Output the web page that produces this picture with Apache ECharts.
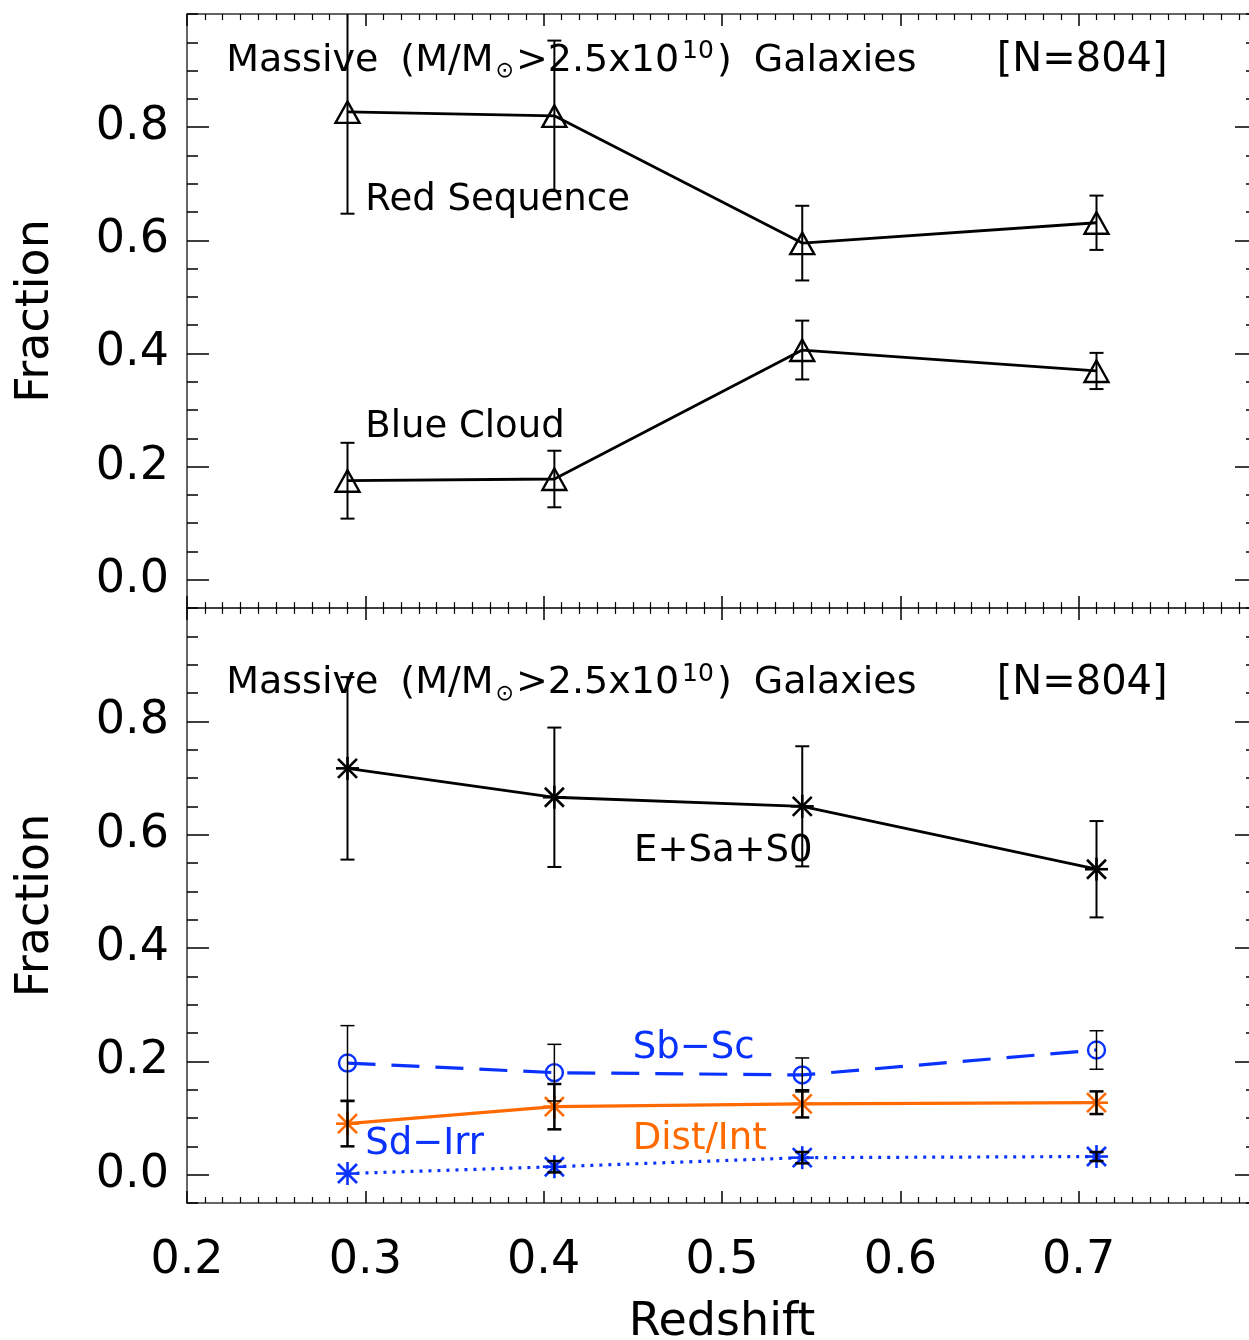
<!DOCTYPE html>
<html><head><meta charset="utf-8">
<script src="https://cdn.jsdelivr.net/npm/echarts@6/dist/echarts.min.js"></script>
<style>html,body{margin:0;padding:0;background:#fff}#c{width:1249px;height:1340px}</style>
</head><body><div id="c"></div>
<script>
// ---------- data ----------
const redshift = [0.290, 0.406, 0.545, 0.710];
const redSeq = [0.827, 0.820, 0.595, 0.631];
const redSeqErr = [0.180, 0.133, 0.066, 0.048];
const blueCloud = [0.175, 0.178, 0.406, 0.369];
const blueCloudErr = [0.067, 0.050, 0.052, 0.032];
const eSaS0 = [0.717, 0.666, 0.650, 0.539];
const eSaS0Err = [0.161, 0.123, 0.106, 0.085];
const sbSc = [0.197, 0.180, 0.176, 0.220];
const sbScErr = [0.066, 0.050, 0.030, 0.034];
const distInt = [0.090, 0.120, 0.125, 0.127];
const distIntErr = [0.040, 0.040, 0.024, 0.020];
const sdIrr = [0.002, 0.014, 0.030, 0.032];
const sdIrrErr = [0.000, 0.010, 0.010, 0.008];
const yMajorTicks = [0.0, 0.2, 0.4, 0.6, 0.8];
const xMin = 0.2, xMax = 0.8, xStep = 0.1;
const yMin = -0.05, yMax = 1.0, yMinorStep = 0.05;

const BLUE = '#0a32ff', ORANGE = '#ff6a00', BLACK = '#000';
const FONT = 'DejaVu Sans';

// ---------- helpers ----------
function pts(ys, errs) { return redshift.map((x, i) => errs ? [x, ys[i], errs[i]] : [x, ys[i]]); }

function errRender(width, cap) {
  return function (params, api) {
    const x = api.value(0), y = api.value(1), e = api.value(2);
    if (!(e > 0)) return null;
    const t = api.coord([x, y + e]), b = api.coord([x, y - e]);
    const st = { stroke: BLACK, lineWidth: width, fill: null };
    return { type: 'group', children: [
      { type: 'line', shape: { x1: t[0], y1: t[1], x2: b[0], y2: b[1] }, style: st },
      { type: 'line', shape: { x1: t[0] - cap, y1: t[1], x2: t[0] + cap, y2: t[1] }, style: st },
      { type: 'line', shape: { x1: b[0] - cap, y1: b[1], x2: b[0] + cap, y2: b[1] }, style: st }
    ] };
  };
}
function markRender(kind, color, width) {
  return function (params, api) {
    const c = api.coord([api.value(0), api.value(1)]);
    const st = { stroke: color, lineWidth: width, fill: null };
    const X = c[0], Y = c[1];
    if (kind === 'triangle') {
      return { type: 'polygon', shape: { points: [[X, Y - 10.5], [X + 12, Y + 11], [X - 12, Y + 11]] }, style: st };
    }
    if (kind === 'circle') {
      return { type: 'circle', shape: { cx: X, cy: Y, r: 8.5 }, style: st };
    }
    const r = 11.5, d = 9.5;
    return { type: 'group', children: [
      { type: 'line', shape: { x1: X, y1: Y - r, x2: X, y2: Y + r }, style: st },
      { type: 'line', shape: { x1: X - r, y1: Y, x2: X + r, y2: Y }, style: st },
      { type: 'line', shape: { x1: X - d, y1: Y - d, x2: X + d, y2: Y + d }, style: st },
      { type: 'line', shape: { x1: X - d, y1: Y + d, x2: X + d, y2: Y - d }, style: st }
    ] };
  };
}
function lineSeries(g, ys, color, type, width) {
  return { type: 'line', xAxisIndex: g * 2, yAxisIndex: g * 4, data: pts(ys), symbol: 'none',
    lineStyle: { color: color, width: width, type: type }, silent: true, z: 3, animation: false };
}
function markSeries(g, ys, kind, color, width) {
  return { type: 'custom', xAxisIndex: g * 2, yAxisIndex: g * 4, data: pts(ys), renderItem: markRender(kind, color, width),
    clip: true, silent: true, z: 4, animation: false };
}
function errSeries(g, ys, errs, width) {
  return { type: 'custom', xAxisIndex: g * 2, yAxisIndex: g * 4, data: pts(ys, errs), renderItem: errRender(width, 7),
    clip: true, silent: true, z: 5, animation: false };
}
function textSeries(g, x, y, text, color, size, rich) {
  return { type: 'custom', xAxisIndex: g * 2, yAxisIndex: g * 4, data: [[x, y]], silent: true, z: 6, animation: false,
    clip: false,
    renderItem: function (params, api) {
      const c = api.coord([api.value(0), api.value(1)]);
      return { type: 'text', x: c[0], y: c[1], style: {
        text: text, fill: color, fontFamily: FONT, fontSize: size, align: 'left', verticalAlign: 'middle',
        rich: rich || {} } };
    } };
}

// ---------- axes ----------
const grids = [
  { left: 187, top: 14, width: 1070, height: 594, outerBoundsMode: 'none', containLabel: false },
  { left: 187, top: 608, width: 1070, height: 595, outerBoundsMode: 'none', containLabel: false }
];
const axisLine = { show: true, onZero: false, lineStyle: { color: '#333', width: 1.5 } };
const xAxes = [], yAxes = [];
[0, 1].forEach(g => {
  ['bottom', 'top'].forEach(pos => {
    const labeled = (g === 1 && pos === 'bottom');
    xAxes.push({
      type: 'value', gridIndex: g, position: pos, min: xMin, max: xMax, interval: xStep,
      axisLine: axisLine, splitLine: { show: false },
      axisTick: { show: true, inside: true, length: 12, lineStyle: { color: BLACK, width: 1.5 } },
      minorTick: { show: true, splitNumber: 10, length: 6, lineStyle: { color: BLACK, width: 1.2 } },
      axisLabel: { show: labeled, margin: 35, fontFamily: FONT, fontSize: 46, color: BLACK,
        formatter: v => (v > 0.79 ? '' : v.toFixed(1)) },
      name: labeled ? 'Redshift' : '', nameLocation: 'middle', nameGap: 97,
      nameTextStyle: { fontFamily: FONT, fontSize: 46, color: BLACK }
    });
  });
  ['left', 'right'].forEach(pos => {
    yAxes.push({
      type: 'value', gridIndex: g, position: pos, min: yMin, max: yMax, interval: yMinorStep,
      axisLine: axisLine, splitLine: { show: false },
      axisTick: { show: true, inside: true, length: 11, lineStyle: { color: BLACK, width: 1.5 } },
      axisLabel: { show: false },
      name: pos === 'left' ? 'Fraction' : '', nameLocation: 'middle', nameGap: 128, nameRotate: 90,
      nameTextStyle: { fontFamily: FONT, fontSize: 46, color: BLACK }
    });
    yAxes.push({
      type: 'value', gridIndex: g, position: pos, min: yMin, max: yMax,
      axisLine: { show: false, onZero: false }, splitLine: { show: false },
      axisTick: { show: true, inside: true, length: 22, customValues: yMajorTicks, lineStyle: { color: BLACK, width: 1.5 } },
      axisLabel: { show: pos === 'left', customValues: yMajorTicks, margin: 18, fontFamily: FONT, fontSize: 46, color: BLACK,
        formatter: v => v.toFixed(1) }
    });
  });
});

// ---------- annotations ----------
const titleText = 'Massive{sp| }(M/M{sun|⊙}>2.5x10{sup|10}){sp| }Galaxies';
const titleRich = {
  sp: { width: 22, fontSize: 38, fontFamily: FONT },
  sun: { fontFamily: FONT, fontSize: 22, fill: BLACK, verticalAlign: 'bottom', padding: [14, 2, 0, 2] },
  sup: { fontFamily: FONT, fontSize: 25, fill: BLACK, verticalAlign: 'top', padding: [0, 3, 18, 3] }
};

const series = [
  lineSeries(0, redSeq, BLACK, 'solid', 2.8),
  lineSeries(0, blueCloud, BLACK, 'solid', 2.8),
  markSeries(0, redSeq, 'triangle', BLACK, 2.4),
  markSeries(0, blueCloud, 'triangle', BLACK, 2.4),
  errSeries(0, redSeq, redSeqErr, 2),
  errSeries(0, blueCloud, blueCloudErr, 2),
  textSeries(0, 0.222, 0.917, titleText, BLACK, 38, titleRich),
  textSeries(0, 0.654, 0.917, '[N=804]', BLACK, 40),
  textSeries(0, 0.3, 0.671, 'Red Sequence', BLACK, 37),
  textSeries(0, 0.3, 0.270, 'Blue Cloud', BLACK, 37),
  lineSeries(1, eSaS0, BLACK, 'solid', 2.8),
  lineSeries(1, sbSc, BLUE, [28, 16], 3.2),
  lineSeries(1, distInt, ORANGE, 'solid', 3.2),
  lineSeries(1, sdIrr, BLUE, [3, 6], 3.2),
  markSeries(1, eSaS0, 'asterisk', BLACK, 2.6),
  markSeries(1, sbSc, 'circle', BLUE, 2.4),
  markSeries(1, distInt, 'asterisk', ORANGE, 2.6),
  markSeries(1, sdIrr, 'asterisk', BLUE, 2.6),
  errSeries(1, eSaS0, eSaS0Err, 2),
  errSeries(1, sbSc, sbScErr, 1.5),
  errSeries(1, distInt, distIntErr, 2.5),
  errSeries(1, sdIrr, sdIrrErr, 2.5),
  textSeries(1, 0.222, 0.867, titleText, BLACK, 38, titleRich),
  textSeries(1, 0.654, 0.867, '[N=804]', BLACK, 40),
  textSeries(1, 0.4507, 0.571, 'E+Sa+S0', BLACK, 37),
  textSeries(1, 0.450, 0.222, 'Sb\u2212Sc', BLUE, 37),
  textSeries(1, 0.450, 0.062, 'Dist/Int', ORANGE, 37),
  textSeries(1, 0.300, 0.053, 'Sd\u2212Irr', BLUE, 37)
];

const chart = echarts.init(document.getElementById('c'), null, { renderer: 'canvas' });
chart.setOption({
  animation: false,
  backgroundColor: '#fff',
  grid: grids,
  xAxis: xAxes,
  yAxis: yAxes,
  series: series
});
</script></body></html>
